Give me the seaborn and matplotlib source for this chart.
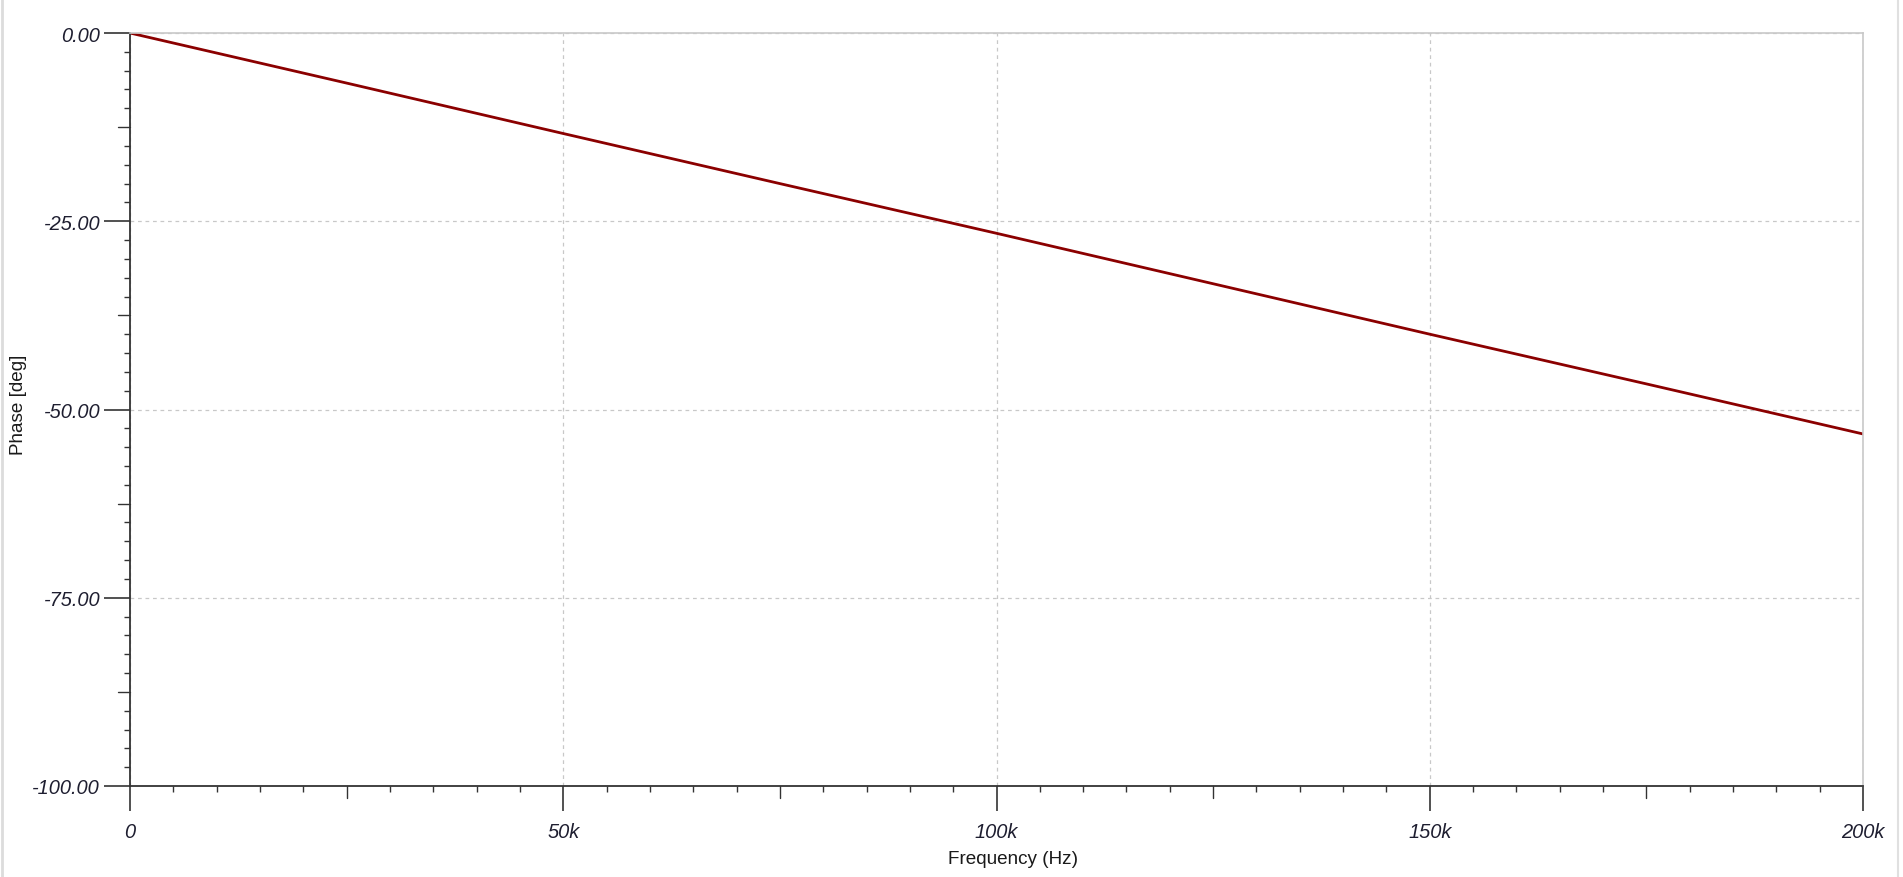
import pandas as pd
import numpy as np
import matplotlib.pyplot as plt
import seaborn as sns
from matplotlib.ticker import FixedLocator, FuncFormatter
from matplotlib.lines import Line2D

# values
freq_hz = [0, 25000, 50000, 75000, 100000, 125000, 150000, 175000, 200000]
phase_deg = [0.0, -6.65, -13.35, -20.0, -26.6, -33.3, -40.0, -46.6, -53.25]

x_ticks = [0, 50000, 100000, 150000, 200000]
x_tick_labels = ['0', '50k', '100k', '150k', '200k']
y_ticks = [0, -25, -50, -75, -100]

df = pd.DataFrame({'Frequency (Hz)': freq_hz, 'Phase [deg]': phase_deg})

sns.set_style('white')
plt.rcParams['font.family'] = ['Liberation Sans', 'DejaVu Sans']

fig = plt.figure(figsize=(19.03, 8.78), dpi=100)
ax = fig.add_axes([130 / 1903, 1 - 787 / 878, 1733 / 1903, 753 / 878])

sns.lineplot(data=df, x='Frequency (Hz)', y='Phase [deg]', ax=ax,
             color='#8b0000', linewidth=2.0)

ax.set_xlim(0, 200000)
ax.set_ylim(-100, 0)

ax.xaxis.set_major_locator(FixedLocator(x_ticks))
ax.xaxis.set_major_formatter(FuncFormatter(
    lambda v, p: x_tick_labels[x_ticks.index(int(round(v)))] if int(round(v)) in x_ticks else ''))
ax.yaxis.set_major_locator(FixedLocator(y_ticks))
ax.yaxis.set_major_formatter(FuncFormatter(lambda v, p: '%.2f' % v if v != 0 else '0.00'))

# minor ticks: every 5k / 2.5 deg, mid ticks drawn longer below
x_minor = [v for v in np.arange(0, 200001, 5000) if v % 25000 != 0]
y_minor = [v for v in np.arange(-100, 0.1, 2.5) if v % 12.5 != 0]
ax.xaxis.set_minor_locator(FixedLocator(x_minor))
ax.yaxis.set_minor_locator(FixedLocator(y_minor))

tick_col = '#333333'
ax.tick_params(axis='x', which='major', direction='out', length=18, width=1.2, bottom=True,
               color=tick_col, pad=8, labelsize=14.4, labelcolor='#1e1e30')
ax.tick_params(axis='y', which='major', direction='out', length=18.5, width=1.2, left=True,
               color=tick_col, pad=3, labelsize=14.4, labelcolor='#1e1e30')
ax.tick_params(axis='both', which='minor', direction='out', length=4.5, width=1.0,
               color=tick_col, bottom=True, left=True)
for lab in ax.get_xticklabels() + ax.get_yticklabels():
    lab.set_fontstyle('italic')

for v in [25000, 75000, 125000, 175000]:
    ax.plot([v, v], [0, -0.0165], transform=ax.get_xaxis_transform(),
            color=tick_col, linewidth=1.0, clip_on=False)
for v in [-12.5, -37.5, -62.5, -87.5]:
    ax.plot([0, -0.0072], [v, v], transform=ax.get_yaxis_transform(),
            color=tick_col, linewidth=1.0, clip_on=False)

ax.grid(True, which='major', linestyle=(0, (3, 3)), color='#c8c8c8', linewidth=0.9)

for side in ['left', 'bottom']:
    ax.spines[side].set_color(tick_col)
    ax.spines[side].set_linewidth(1.3)
for side in ['top', 'right']:
    ax.spines[side].set_color('#c8c8c8')
    ax.spines[side].set_linewidth(1.2)

ax.set_xlabel('Frequency (Hz)', fontsize=13.6, color='#1a1a1a')
ax.set_ylabel('Phase [deg]', fontsize=13.6, color='#1a1a1a')
ax.xaxis.set_label_coords(0.5095, -0.085)
ax.yaxis.set_label_coords(-0.0594, 0.507)

# window borders of the original screenshot
fig.add_artist(Line2D([1.5 / 1903, 1.5 / 1903], [0, 1], color='#dcdcdc', linewidth=2))
fig.add_artist(Line2D([1898 / 1903, 1898 / 1903], [0, 1], color='#e0e0e0', linewidth=1.5))

fig.savefig('out.png', dpi=100)
